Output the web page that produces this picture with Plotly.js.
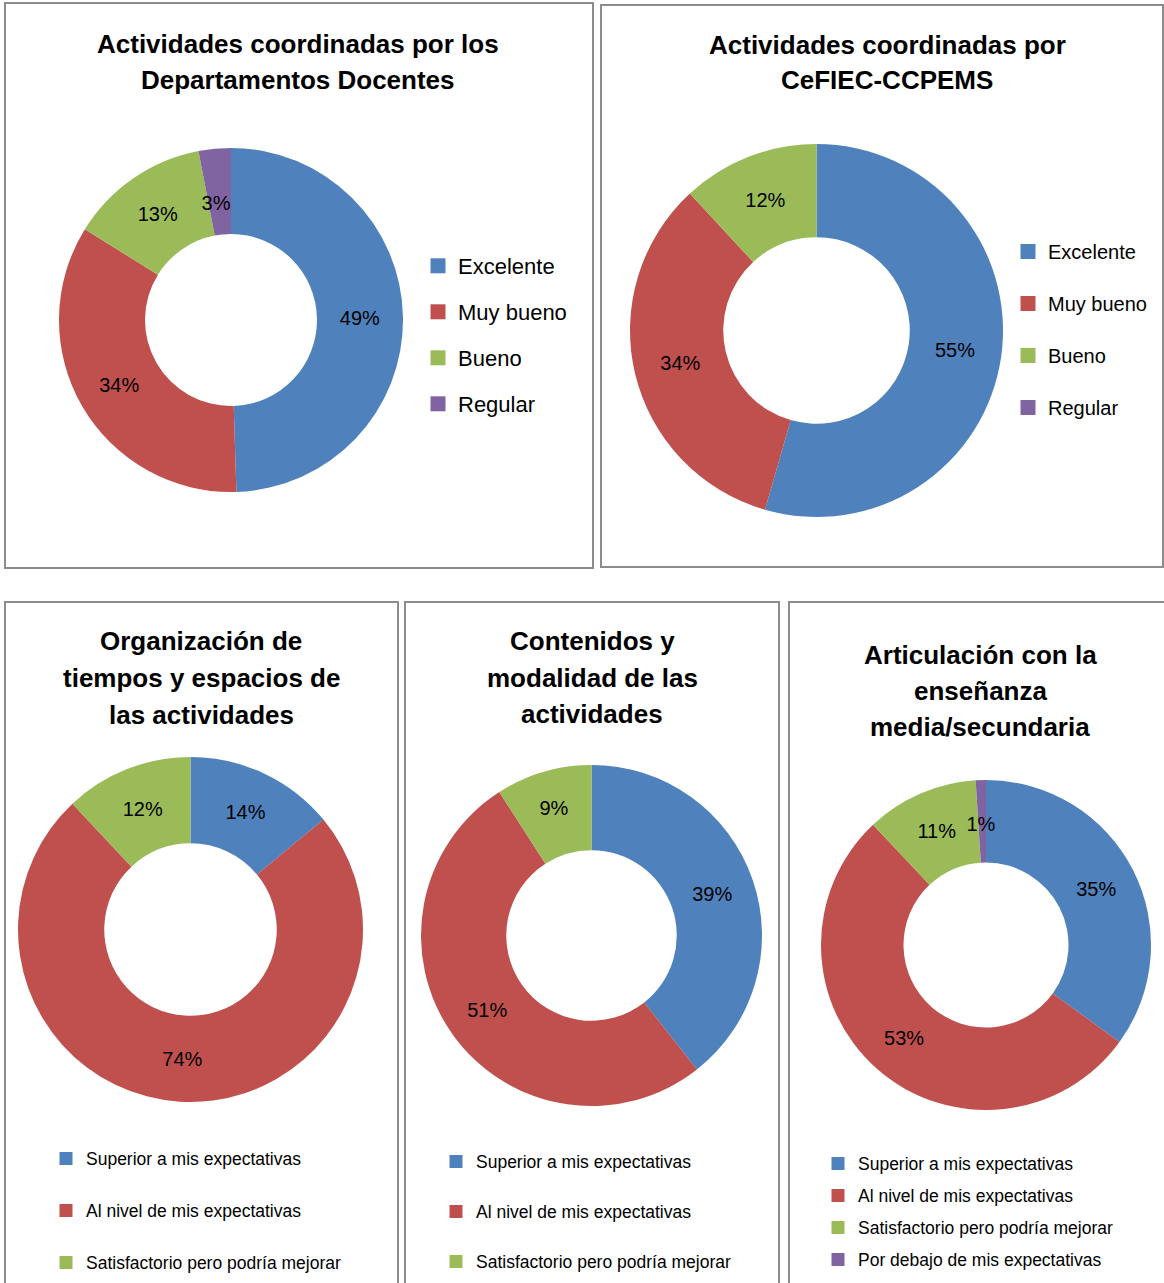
<!DOCTYPE html>
<html>
<head>
<meta charset="utf-8">
<script src="https://cdn.plot.ly/plotly-3.0.1.min.js"></script>
<style>html,body{margin:0;padding:0;background:#fff;overflow:hidden;}#chart{width:1164px;height:1283px;}</style>
</head>
<body>
<div id="chart"></div>
<script>
// ---------- DATA ----------
const labelsTop = ['Excelente', 'Muy bueno', 'Bueno', 'Regular'];
const labelsBottom = ['Superior a mis expectativas', 'Al nivel de mis expectativas', 'Satisfactorio pero podría mejorar', 'Por debajo de mis expectativas'];

const titleDocentes = ['Actividades coordinadas por los', 'Departamentos Docentes'];
const valuesDocentes = [49, 34, 13, 3];

const titleCefiec = ['Actividades coordinadas por', 'CeFIEC-CCPEMS'];
const valuesCefiec = [55, 34, 12, 0];

const titleOrganizacion = ['Organización de', 'tiempos y espacios de', 'las actividades'];
const valuesOrganizacion = [14, 74, 12];

const titleContenidos = ['Contenidos y', 'modalidad de las', 'actividades'];
const valuesContenidos = [39, 51, 9];

const titleArticulacion = ['Articulación con la', 'enseñanza', 'media/secundaria'];
const valuesArticulacion = [35, 53, 11, 1];

const sliceColors = ['#4F81BD', '#C0504D', '#9BBB59', '#8064A2'];

// ---------- LAYOUT HELPERS ----------
const W = 1164, H = 1283;
const fx = x => x / W;
const fy = y => 1 - y / H;

const ARIAL = '"Liberation Sans", Arial, sans-serif';
// thin slices: Plotly puts their label near the outer rim; padding lines above move it inward
const THIN_SLICE = 5, THIN_PAD = '\u00A0<br>\u00A0<br>\u00A0<br>';

const panels = [
  { id: 1, labels: labelsTop, values: valuesDocentes, title: titleDocentes,
    box: [5, 3, 593, 568], center: [231, 320], r: 172,
    titleX: 298, titleY: [44, 80], titleSize: 26,
    legX: 418, legTop: 245, legSize: 22, legGap: 14.4, mSize: 15 },
  { id: 2, labels: labelsTop, values: valuesCefiec, title: titleCefiec,
    box: [601, 5, 1163, 567], center: [816.5, 330.5], r: 186.5,
    titleX: 887, titleY: [45, 80], titleSize: 26,
    legX: 1008, legTop: 232, legSize: 20, legGap: 23, mSize: 15 },
  { id: 3, labels: labelsBottom, values: valuesOrganizacion, title: titleOrganizacion,
    box: [5, 602, 398, 1290], center: [190.5, 929.5], r: 172.5,
    titleX: 201, titleY: [641, 678, 715], titleSize: 26,
    legX: 46, legTop: 1140.5, legSize: 17.5, legGap: 26.25, mSize: 13 },
  { id: 4, labels: labelsBottom, values: valuesContenidos, title: titleContenidos,
    box: [405, 602, 779, 1290], center: [591.5, 935.5], r: 170.5,
    titleX: 592, titleY: [641, 678, 714], titleSize: 26,
    legX: 436, legTop: 1143.5, legSize: 17.5, legGap: 24.25, mSize: 13 },
  { id: 5, labels: labelsBottom, values: valuesArticulacion, title: titleArticulacion,
    box: [789, 602, 1170, 1290], center: [986, 945], r: 165,
    titleX: 980, titleY: [655, 691, 727], titleSize: 26,
    legX: 818, legTop: 1145.5, legSize: 17.5, legGap: 6.25, mSize: 13 }
];

const traces = [];
const shapes = [];
const annotations = [];
const layout = {
  width: W, height: H,
  margin: { l: 0, r: 0, t: 0, b: 0 },
  paper_bgcolor: '#ffffff', plot_bgcolor: '#ffffff',
  showlegend: true,
  xaxis: { visible: false, range: [0, 1], fixedrange: true },
  yaxis: { visible: false, range: [0, 1], fixedrange: true },
  uniformtext: { minsize: 20, mode: 'show' },
  font: { family: ARIAL, color: '#000' }
};

panels.forEach(p => {
  const [cx, cy] = p.center;
  const n = p.values.length;
  const legName = p.id === 1 ? 'legend' : 'legend' + p.id;

  traces.push({
    type: 'pie',
    values: p.values,
    labels: p.labels.slice(0, n),
    text: p.values.map(v => v <= 0 ? '' : (v < THIN_SLICE ? THIN_PAD : '') + v + '%'),
    textinfo: 'text',
    textposition: 'inside',
    insidetextorientation: 'horizontal',
    textfont: { family: ARIAL, size: 20, color: '#000' },
    hole: 0.5,
    sort: false,
    direction: 'clockwise',
    rotation: 0,
    marker: { colors: sliceColors.slice(0, n), line: { width: 0 } },
    domain: { x: [fx(cx - p.r), fx(cx + p.r)], y: [fy(cy + p.r), fy(cy - p.r)] },
    showlegend: false,
    hoverinfo: 'label+percent'
  });

  // legend entries (one per category, so the item spacing can be set)
  p.labels.slice(0, n).forEach((lab, i) => {
    traces.push({
      type: 'scatter', mode: 'markers', x: [null], y: [null],
      name: lab, legend: legName, legendgroup: 'p' + p.id + '_' + i,
      marker: { symbol: 'square', size: p.mSize, color: sliceColors[i] },
      showlegend: true, hoverinfo: 'skip'
    });
  });

  layout[legName] = {
    x: fx(p.legX), y: fy(p.legTop), xanchor: 'left', yanchor: 'top',
    xref: 'paper', yref: 'paper',
    bgcolor: 'rgba(0,0,0,0)', borderwidth: 0,
    font: { family: ARIAL, size: p.legSize, color: '#000' },
    tracegroupgap: p.legGap, traceorder: 'grouped', itemclick: false, itemdoubleclick: false
  };

  const [x0, y0, x1, y1] = p.box;
  shapes.push({
    type: 'rect', xref: 'paper', yref: 'paper',
    x0: fx(x0), x1: fx(x1), y0: fy(y1), y1: fy(y0),
    line: { color: '#8c8c8c', width: 2 }, fillcolor: 'rgba(0,0,0,0)'
  });

  p.title.forEach((line, i) => {
    annotations.push({
      text: '<b>' + line + '</b>', showarrow: false,
      xref: 'paper', yref: 'paper', x: fx(p.titleX), y: fy(p.titleY[i]),
      xanchor: 'center', yanchor: 'middle',
      font: { family: ARIAL, size: p.titleSize, color: '#000' }
    });
  });
});

layout.shapes = shapes;
layout.annotations = annotations;

Plotly.newPlot('chart', traces, layout, { displayModeBar: false, staticPlot: true });
</script>
</body>
</html>
